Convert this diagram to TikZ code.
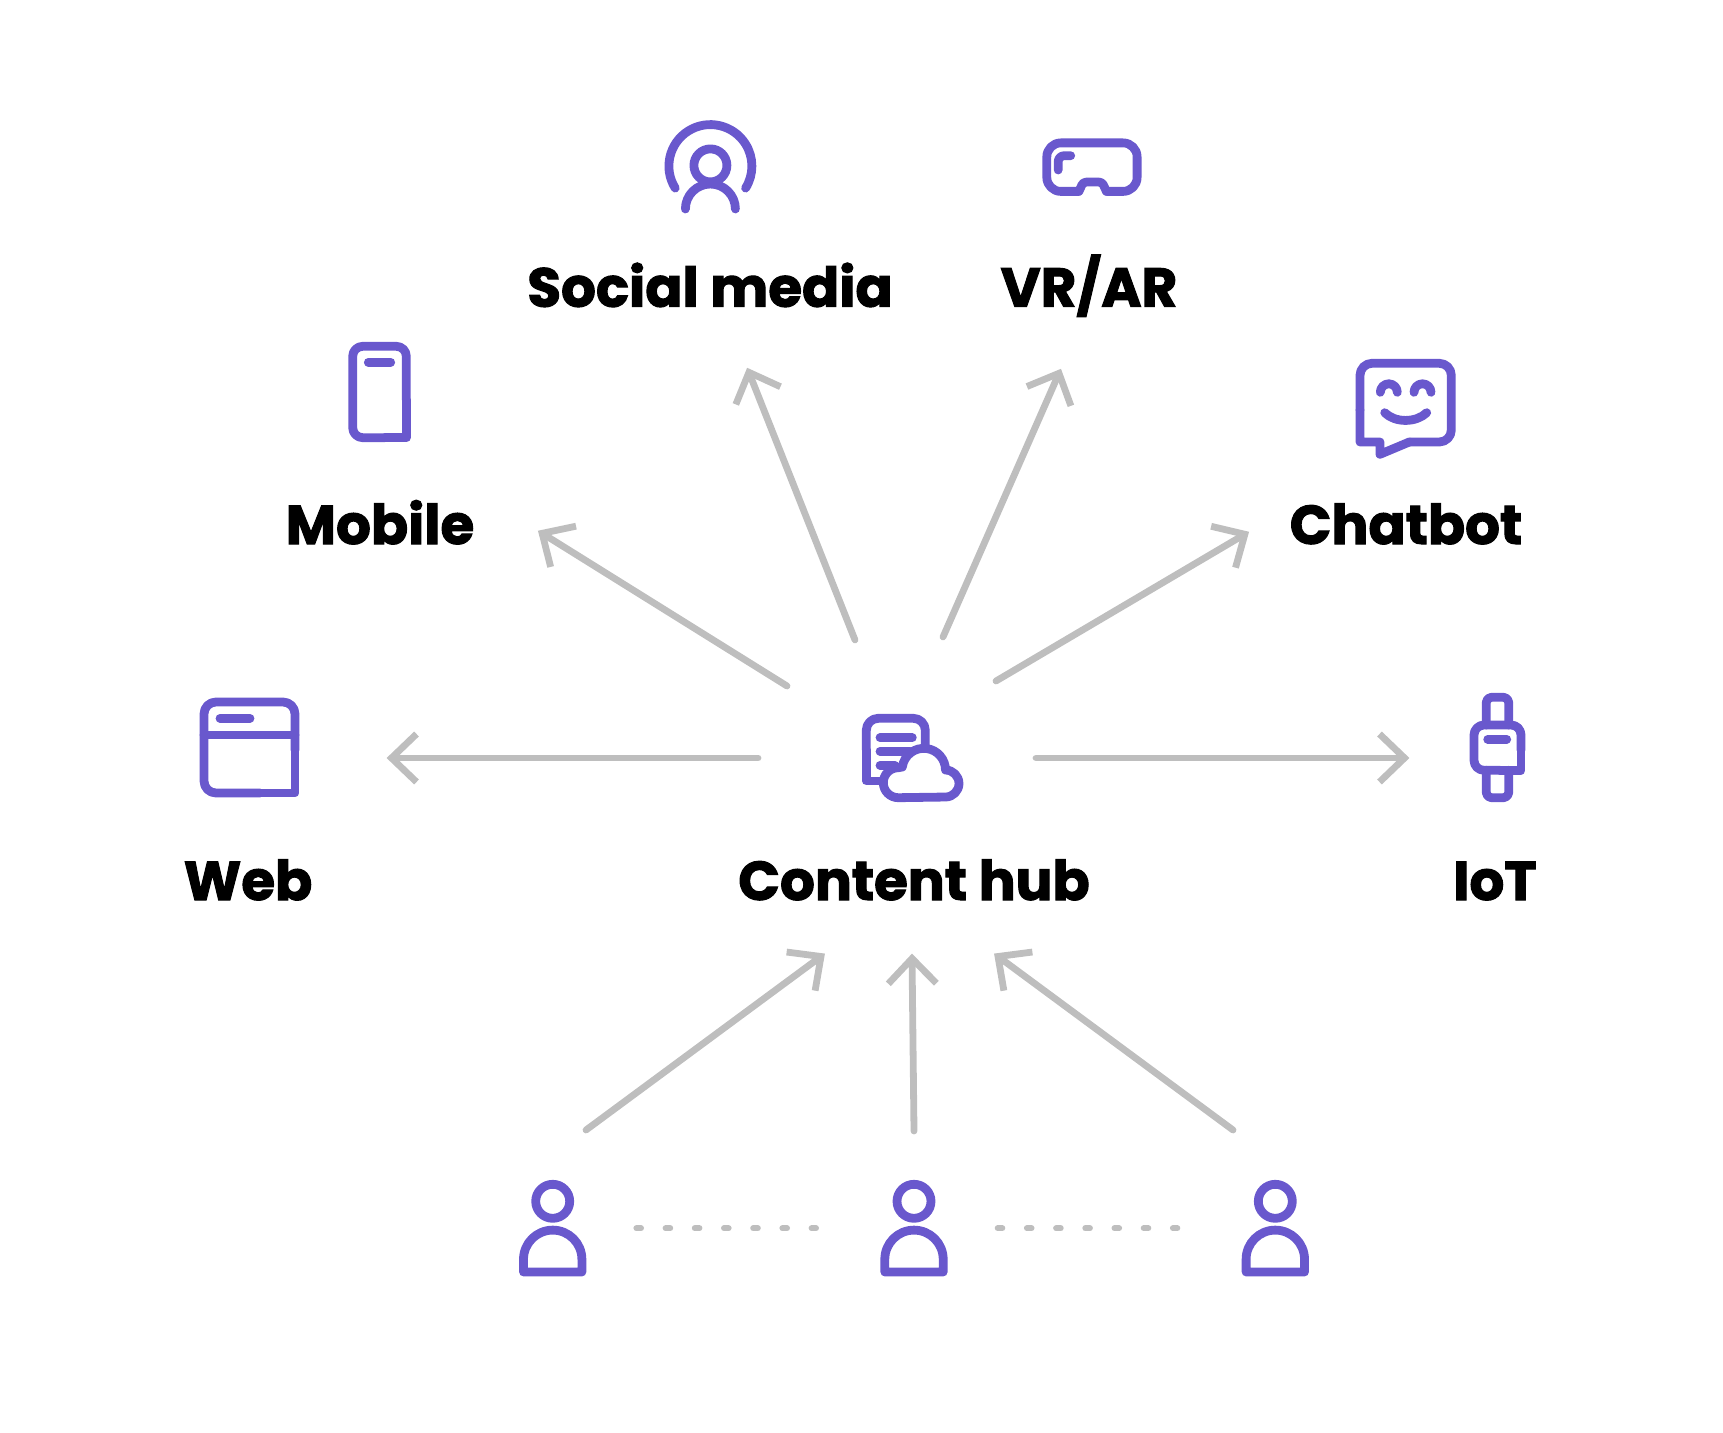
\documentclass[tikz,border=0pt]{standalone}
\usepackage{fontspec}
\newfontfamily\labelfont[BoldFeatures={FakeBold=1.9}]{Poppins}
\usetikzlibrary{arrows.meta,positioning}
\definecolor{iconpurple}{RGB}{105,88,205}
\definecolor{arrowgray}{RGB}{190,190,190}
\tikzstyle{arrow} = [line width=3.4pt,arrowgray,line cap=round,shorten >=-1.2pt,-{Straight Barb[length=12.5pt,width=24pt]}]
\tikzstyle{dotline} = [line width=3pt,arrowgray,line cap=round,dash pattern=on 2.3pt off 12.3pt]
\tikzstyle{icon} = [line width=4.4pt,iconpurple,line cap=round,line join=round]
\tikzstyle{lbl} = [font=\labelfont\bfseries\fontsize{27.4}{30}\selectfont,text=black,anchor=base,inner sep=0pt]

\begin{document}
\begin{tikzpicture}[x=0.5pt,y=-0.5pt]
	\useasboundingbox (0,0) rectangle (1723,1433);

	% Labels
	\node[lbl] (social) at (710,306.7) {Social media};
	\node[lbl] (vrar) at (1089,306.7) {VR/AR};
	\node[lbl] (mobile) at (380,544) {Mobile};
	\node[lbl] (chatbot) at (1406,544) {Chatbot};
	\node[lbl] (web) at (248,900) {Web};
	\node[lbl] (hub) at (914,900) {Content hub};
	\node[lbl] (iot) at (1495,900) {IoT};

	% Arrow ends
	\coordinate (hubW) at (758,758);
	\coordinate (tipW) at (389,758);
	\coordinate (hubI) at (1036,758);
	\coordinate (tipI) at (1407,758);
	\coordinate (hubM) at (787,686);
	\coordinate (tipM) at (540,532);
	\coordinate (hubS) at (855,640);
	\coordinate (tipS) at (748,370);
	\coordinate (hubV) at (943,637);
	\coordinate (tipV) at (1060,371);
	\coordinate (hubC) at (996,681);
	\coordinate (tipC) at (1247,533);
	\coordinate (userL) at (586,1130);
	\coordinate (tipL) at (823,955);
	\coordinate (userM) at (914,1131);
	\coordinate (tipB) at (912,956);
	\coordinate (userR) at (1233,1130);
	\coordinate (tipR) at (996,955);

	% Arrows
	\draw[arrow] (hubW) -- (tipW);
	\draw[arrow] (hubI) -- (tipI);
	\draw[arrow] (hubM) -- (tipM);
	\draw[arrow] (hubS) -- (tipS);
	\draw[arrow] (hubV) -- (tipV);
	\draw[arrow] (hubC) -- (tipC);
	\draw[arrow] (userL) -- (tipL);
	\draw[arrow] (userM) -- (tipB);
	\draw[arrow] (userR) -- (tipR);

	% Social media icon
	\draw[icon] (675.2,188.1) arc (212:-32:20.75pt);
	\draw[icon] (710.4,165.4) circle [radius=8.25pt];
	\draw[icon] (685.4,209) arc (180:0:12.5pt);

	% VR/AR icon
	\draw[icon,rounded corners=7pt] (1078.9,191.4) -- (1046.8,191.4) -- (1046.8,142.9) -- (1137.1,142.9) -- (1137.1,191.4) -- (1106.4,191.4);
	\draw[icon,rounded corners=1.5pt] (1078.9,191.4) -- (1083.2,182.1) -- (1102.1,182.1) -- (1106.4,191.4);
	\draw[icon,rounded corners=3pt] (1058.2,170) -- (1058.2,155.7) -- (1070.7,155.7);

	% Mobile icon
	\draw[icon,rounded corners=5pt] (406.3,400) -- (406.3,346.3) -- (352.7,346.3) -- (352.7,437.7) -- (385,437.7);
	\draw[icon] (385,437.7) -- (406.3,437.7) -- (406.3,400);
	\draw[icon] (368.3,362.3) -- (390.7,362.3);

	% Chatbot icon
	\draw[icon,rounded corners=6pt] (1409.3,442) -- (1451.3,442) -- (1451.3,363.3) -- (1360,363.3) -- (1360,410);
	\draw[icon] (1360,410) -- (1360,442) -- (1380,442) -- (1380,454.3) -- (1409.3,442);
	\draw[icon] (1380.3,392.3) arc (180:0:4.25pt);
	\draw[icon] (1414,392.3) arc (180:0:4.25pt);
	\draw[icon] (1384.7,412.7) .. controls (1395,423) and (1416,423) .. (1426.7,412.7);

	% Web icon
	\draw[icon,rounded corners=6pt] (295,750) -- (295,702) -- (204,702) -- (204,793) -- (260,793);
	\draw[icon] (260,793) -- (295,793) -- (295,750);
	\draw[icon] (204,735) -- (295,735);
	\draw[icon] (220,718.3) -- (250,718.3);

	% Content hub icon
	\draw[icon,rounded corners=6pt] (925.3,750) -- (925.3,718.3) -- (866.3,718.3) -- (866.3,750);
	\draw[icon] (866.3,750) -- (866.3,781) -- (882,781);
	\draw[icon] (880,737.7) -- (912.3,737.7);
	\draw[icon] (880,751.3) -- (910,751.3);
	\draw[icon] (880,765.3) -- (895,765.3);
	\draw[icon,fill=white] (898.3,797.7) arc (270:90:7.5pt) -- (902.3,767) arc (172:0:10.85pt) arc (90:-90:6.75pt) -- cycle;

	% IoT icon
	\draw[icon,rounded corners=2.5pt] (1486.3,725) -- (1486.3,697.3) -- (1508.7,697.3) -- (1508.7,725);
	\draw[icon,rounded corners=2.5pt] (1486.3,770.3) -- (1486.3,797.7) -- (1508.7,797.7) -- (1508.7,770.3);
	\draw[icon,rounded corners=5pt] (1521,750) -- (1521,725) -- (1474,725) -- (1474,770.3) -- (1500,770.3);
	\draw[icon] (1500,770.3) -- (1521,770.3) -- (1521,750);
	\draw[icon] (1487.7,739.3) -- (1506.7,739.3);

	% Users
	\foreach \px in {552.7,914,1275.3}{
		\draw[icon] (\px,1201.3) circle [radius=8.5pt];
		\draw[icon] ({\px-29.2},1272) -- ({\px-29.2},1259.3) arc (180:0:14.6pt) -- ({\px+29.2},1272) -- cycle;
	}

	% Dots between users
	\coordinate (dotsA) at (636.4,1228.3);
	\coordinate (dotsB) at (816,1228.3);
	\coordinate (dotsC) at (997.7,1228.3);
	\coordinate (dotsD) at (1177.3,1228.3);
	\draw[dotline] (dotsA) -- (dotsB);
	\draw[dotline] (dotsC) -- (dotsD);
\end{tikzpicture}
\end{document}
